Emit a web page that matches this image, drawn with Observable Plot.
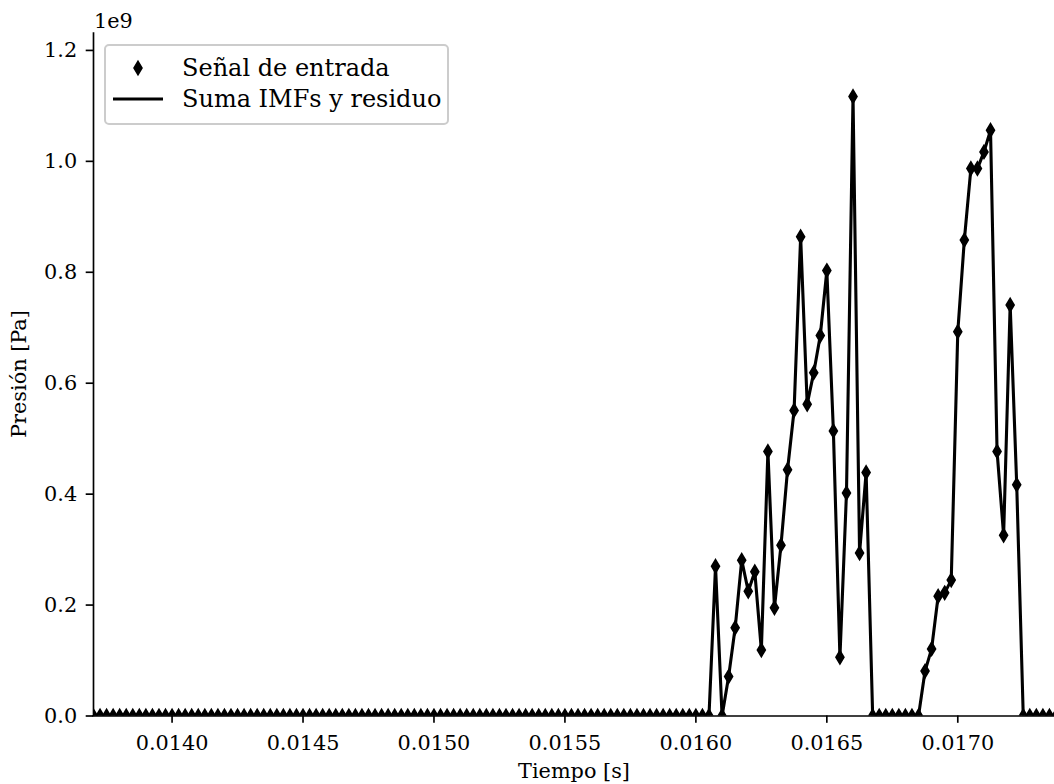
<!DOCTYPE html>
<html>
<head>
<meta charset="utf-8">
<script src="https://cdn.jsdelivr.net/npm/d3@7"></script>
<script src="https://cdn.jsdelivr.net/npm/@observablehq/plot@0.6"></script>
<style>
  html, body { margin: 0; padding: 0; background: #ffffff; }
  #chart svg { display: block; }
</style>
</head>
<body>
<div id="chart"></div>
<script>
// Sampling grid of the recorded pressure signal (fs = 40 kHz)
const tiempoInicial = 0.0137;   // s
const pasoMuestreo = 0.000025;  // s

// Input pressure signal [Pa], one value per sample
const senalEntrada = [
  0, 0, 0, 0, 0, 0, 0, 0, 0, 0,
  0, 0, 0, 0, 0, 0, 0, 0, 0, 0,
  0, 0, 0, 0, 0, 0, 0, 0, 0, 0,
  0, 0, 0, 0, 0, 0, 0, 0, 0, 0,
  0, 0, 0, 0, 0, 0, 0, 0, 0, 0,
  0, 0, 0, 0, 0, 0, 0, 0, 0, 0,
  0, 0, 0, 0, 0, 0, 0, 0, 0, 0,
  0, 0, 0, 0, 0, 0, 0, 0, 0, 0,
  0, 0, 0, 0, 0, 0, 0, 0, 0, 0,
  0, 0, 0, 0, 0,
  0.270e9, 0, 0.071e9, 0.159e9, 0.281e9, 0.225e9, 0.260e9, 0.119e9, 0.477e9, 0.195e9,
  0.308e9, 0.444e9, 0.551e9, 0.864e9, 0.562e9, 0.619e9, 0.686e9, 0.803e9, 0.514e9, 0.106e9,
  0.402e9, 1.117e9, 0.294e9, 0.439e9,
  0, 0, 0, 0, 0, 0, 0, 0,
  0.081e9, 0.121e9, 0.216e9, 0.222e9, 0.245e9, 0.693e9, 0.858e9, 0.987e9, 0.987e9, 1.017e9,
  1.056e9, 0.477e9, 0.326e9, 0.741e9, 0.417e9,
  0, 0, 0, 0, 0, 0
];

// Sum of all IMFs plus the residue: the EMD reconstruction gives the signal back
const sumaIMFsResiduo = senalEntrada.slice();

// Axis ticks
const ticksTiempo = [0.0140, 0.0145, 0.0150, 0.0155, 0.0160, 0.0165, 0.0170];
const ticksPresion = [0, 0.2e9, 0.4e9, 0.6e9, 0.8e9, 1.0e9, 1.2e9];

// Legend entries
const etiquetas = ["Señal de entrada", "Suma IMFs y residuo"];

const entrada = senalEntrada.map((p, i) => ({t: tiempoInicial + i * pasoMuestreo, p}));
const reconstruida = sumaIMFsResiduo.map((p, i) => ({t: tiempoInicial + i * pasoMuestreo, p}));

const tiempoFinal = tiempoInicial + (senalEntrada.length - 1) * pasoMuestreo;

// Thin diamond marker (narrower than it is tall)
const diamanteFino = {
  draw(context, size) {
    const h = Math.sqrt(size / Math.PI);
    const w = h * 0.6;
    context.moveTo(0, -h);
    context.lineTo(w, 0);
    context.lineTo(0, h);
    context.lineTo(-w, 0);
    context.closePath();
  }
};

const FONT = "DejaVu Serif, serif";
const FS = 20.8;        // axis text
const FS_LEYENDA = 24;  // legend text
const LW_AXIS = 1.67;

const svg = Plot.plot({
  width: 1054,
  height: 784,
  marginTop: 33,
  marginLeft: 93,
  marginRight: 0,
  marginBottom: 68.5,
  style: {fontFamily: FONT, fontSize: FS + "px", background: "#ffffff", color: "#000000"},
  x: {domain: [tiempoInicial, tiempoFinal], range: [93, 1055.5]},
  y: {domain: [0, 1.2305e9], range: [715.5, 33]},
  marks: [
    Plot.dot(entrada, {
      x: "t", y: "p", r: 6.25, symbol: diamanteFino,
      fill: "#000000", stroke: "#000000", strokeWidth: 2, clip: true
    }),
    Plot.line(reconstruida, {
      x: "t", y: "p", stroke: "#000000", strokeWidth: 3.1,
      strokeLinejoin: "round", clip: true
    }),
    Plot.axisX({
      ticks: ticksTiempo, tickFormat: d3.format(".4f"),
      tickSize: 7.3, tickPadding: 12, strokeWidth: LW_AXIS,
      fontSize: FS, label: null
    }),
    Plot.axisY({
      ticks: ticksPresion, tickFormat: d => (d / 1e9).toFixed(1),
      tickSize: 7.3, tickPadding: 9, strokeWidth: LW_AXIS,
      fontSize: FS, label: null
    }),
    Plot.ruleY([0], {stroke: "#000000", strokeWidth: LW_AXIS, strokeLinecap: "square"}),
    Plot.ruleX([tiempoInicial], {stroke: "#000000", strokeWidth: LW_AXIS, strokeLinecap: "square"})
  ]
});

const s = d3.select(svg);

// Scale offset text above the y axis
s.append("text")
  .attr("x", 94).attr("y", 28)
  .attr("text-anchor", "start")
  .attr("font-family", FONT).attr("font-size", FS)
  .attr("fill", "#000000")
  .text("1e9");

// Axis titles
s.append("text")
  .attr("x", 574).attr("y", 778)
  .attr("text-anchor", "middle")
  .attr("font-family", FONT).attr("font-size", FS)
  .attr("fill", "#000000")
  .text("Tiempo [s]");

s.append("text")
  .attr("transform", "translate(26,374) rotate(-90)")
  .attr("text-anchor", "middle")
  .attr("font-family", FONT).attr("font-size", FS)
  .attr("fill", "#000000")
  .text("Presión [Pa]");

// Legend box
const leyenda = s.append("g");
leyenda.append("rect")
  .attr("x", 105).attr("y", 45)
  .attr("width", 343).attr("height", 79)
  .attr("rx", 4).attr("ry", 4)
  .attr("fill", "#ffffff").attr("fill-opacity", 0.8)
  .attr("stroke", "#cccccc").attr("stroke-width", 2);

const hd = 6.25, wd = hd * 0.6;
leyenda.append("path")
  .attr("d", `M138,${68 - hd}L${138 + wd},68L138,${68 + hd}L${138 - wd},68Z`)
  .attr("fill", "#000000").attr("stroke", "#000000").attr("stroke-width", 2);
leyenda.append("line")
  .attr("x1", 113).attr("x2", 163).attr("y1", 99).attr("y2", 99)
  .attr("stroke", "#000000").attr("stroke-width", 3.1);

leyenda.selectAll("text.entrada")
  .data(etiquetas)
  .join("text")
  .attr("class", "entrada")
  .attr("x", 182)
  .attr("y", (d, i) => 75.5 + i * 31)
  .attr("text-anchor", "start")
  .attr("font-family", FONT).attr("font-size", FS_LEYENDA)
  .attr("fill", "#000000")
  .text(d => d);

document.getElementById("chart").appendChild(svg);
</script>
</body>
</html>
